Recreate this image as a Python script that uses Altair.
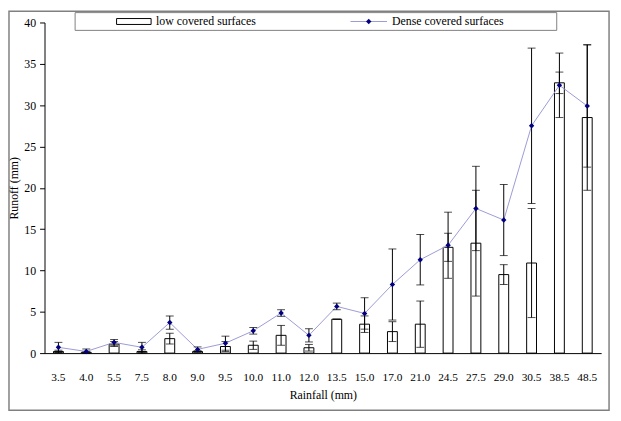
import altair as alt
import pandas as pd

rain = ["3.5", "4.0", "5.5", "7.5", "8.0", "9.0", "9.5", "10.0", "11.0", "12.0",
        "13.5", "15.0", "17.0", "21.0", "24.5", "27.5", "29.0", "30.5", "38.5", "48.5"]
low = [0.2, 0.1, 1.1, 0.2, 1.75, 0.2, 0.8, 0.95, 2.15, 0.65,
       4.1, 3.5, 2.6, 3.5, 12.8, 13.3, 9.5, 10.9, 32.7, 28.5]
low_err = [0.15, 0.1, 0.3, 0.2, 0.65, 0.1, 0.6, 0.5, 1.2, 0.4,
           0.0, 1.0, 1.2, 2.8, 1.7, 6.4, 1.2, 6.6, 1.3, 8.8]
dense = [0.7, 0.2, 1.3, 0.7, 3.7, 0.45, 1.2, 2.7, 4.85, 2.15,
         5.65, 4.8, 8.3, 11.3, 13.05, 17.5, 16.1, 27.5, 32.4, 29.9]
dense_err = [0.6, 0.3, 0.35, 0.6, 0.8, 0.3, 0.85, 0.4, 0.4, 0.8,
             0.4, 1.9, 4.3, 3.05, 4.0, 5.1, 4.3, 9.4, 3.9, 7.4]

series_names = ["low covered surfaces", "Dense covered surfaces"]

FONT = "Liberation Serif"
LINE_COLOR = "#9a9ad6"
POINT_COLOR = "#000080"

df = pd.DataFrame({"rain": rain, "low": low, "low_err": low_err,
                   "dense": dense, "dense_err": dense_err})
df["low_lo"] = (df["low"] - df["low_err"]).clip(lower=0)
df["low_hi"] = df["low"] + df["low_err"]
df["dense_lo"] = (df["dense"] - df["dense_err"]).clip(lower=0)
df["dense_hi"] = df["dense"] + df["dense_err"]

xaxis = alt.Axis(title="Rainfall (mm)", labelAngle=0, ticks=False,
                 labelPadding=19, titlePadding=6, labelFontSize=11.5)
xscale = alt.Scale(paddingInner=0, paddingOuter=0)
yscale = alt.Scale(domain=[0, 40], nice=False)
yaxis = alt.Axis(title="Runoff (mm)", values=list(range(0, 41, 5)), grid=False,
                 tickSize=5, labelPadding=4, titlePadding=3, labelFontSize=12)


def X():
    return alt.X("rain:N", sort=rain, scale=xscale, axis=xaxis)


def Y(field):
    return alt.Y(field + ":Q", scale=yscale, axis=yaxis)


base = alt.Chart(df)

bars = base.mark_bar(fill="white", stroke="black", strokeWidth=1, size=10).encode(
    x=X(), y=Y("low"))
bar_err = base.mark_rule(color="black", strokeWidth=1).encode(
    x=X(), y=Y("low_lo"), y2="low_hi:Q")
bar_cap_hi = base.mark_tick(color="black", size=8, thickness=1).encode(x=X(), y=Y("low_hi"))
bar_cap_lo = base.mark_tick(color="black", size=8, thickness=1).encode(x=X(), y=Y("low_lo"))

line = base.mark_line(color=LINE_COLOR, strokeWidth=1).encode(x=X(), y=Y("dense"))
d_err = base.mark_rule(color="black", strokeWidth=1).encode(
    x=X(), y=Y("dense_lo"), y2="dense_hi:Q")
d_cap_hi = base.mark_tick(color="black", size=8, thickness=1).encode(x=X(), y=Y("dense_hi"))
d_cap_lo = base.mark_tick(color="black", size=8, thickness=1).encode(x=X(), y=Y("dense_lo"))
points = base.mark_point(shape="diamond", filled=True, color=POINT_COLOR, size=30, opacity=1).encode(
    x=X(), y=Y("dense"))

# decorations: outer frame and legend box
one = pd.DataFrame({"k": [0]})
frame = alt.Chart(one).mark_rect(fill=None, stroke="#808080", strokeWidth=1.5).encode(
    x=alt.value(-36), x2=alt.value(572), y=alt.value(-11.5), y2=alt.value(393))
leg_box = alt.Chart(one).mark_rect(fill="white", stroke="#808080", strokeWidth=1).encode(
    x=alt.value(31), x2=alt.value(519), y=alt.value(-10), y2=alt.value(8))
leg_rect = alt.Chart(one).mark_rect(fill="white", stroke="black", strokeWidth=1).encode(
    x=alt.value(73), x2=alt.value(108), y=alt.value(-4), y2=alt.value(2))
leg_txt1 = alt.Chart(pd.DataFrame({"t": [series_names[0]]})).mark_text(
    align="left", baseline="middle", font=FONT, fontSize=12, color="black").encode(
    x=alt.value(113), y=alt.value(-1), text="t:N")
leg_line = alt.Chart(one).mark_rule(color=LINE_COLOR, strokeWidth=1).encode(
    x=alt.value(310), x2=alt.value(347), y=alt.value(-1))
leg_pt = alt.Chart(one).mark_point(shape="diamond", filled=True, color=POINT_COLOR, size=30, opacity=1).encode(
    x=alt.value(328.5), y=alt.value(-1))
leg_txt2 = alt.Chart(pd.DataFrame({"t": [series_names[1]]})).mark_text(
    align="left", baseline="middle", font=FONT, fontSize=12, color="black").encode(
    x=alt.value(352), y=alt.value(-1), text="t:N")

chart = alt.layer(
    frame, bars, bar_err, bar_cap_hi, bar_cap_lo, line, d_err, d_cap_hi, d_cap_lo, points,
    leg_box, leg_rect, leg_txt1, leg_line, leg_pt, leg_txt2
).properties(
    width=564, height=335,
    autosize=alt.AutoSizeParams(type="none"),
    padding={"left": 37, "top": 12, "right": 12, "bottom": 58},
).configure(
    font=FONT
).configure_view(
    stroke=None
).configure_axis(
    labelFont=FONT, titleFont=FONT, labelColor="black", titleColor="black",
    domainColor="black", tickColor="black", titleFontSize=12,
    titleFontWeight="normal", domainWidth=1
)

chart.save("out.html", embed_options={"renderer": "svg", "actions": False})
